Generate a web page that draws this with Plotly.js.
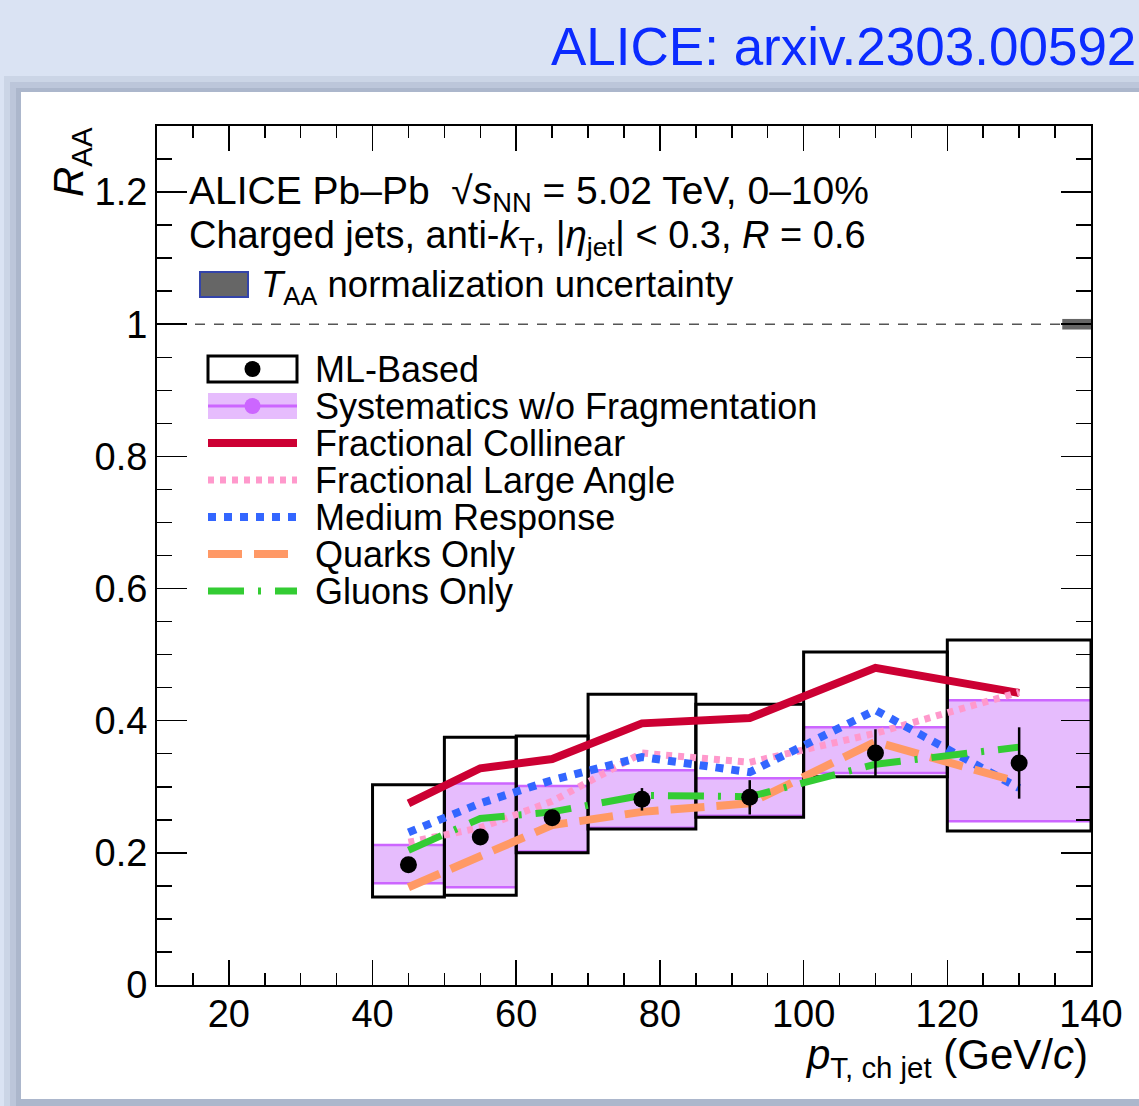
<!DOCTYPE html>
<html>
<head>
<meta charset="utf-8">
<script src="https://cdn.plot.ly/plotly-3.0.1.min.js"></script>
<style>
html,body{margin:0;padding:0;background:#dae3f3;}
#chart{width:1139px;height:1106px;}
</style>
</head>
<body>
<div id="chart"></div>
<script>
// ---------------- data ----------------
const binLo = [40, 50, 60, 70, 85, 100, 120];
const binHi = [50, 60, 70, 85, 100, 120, 140];
const ptCenter = [45, 55, 65, 77.5, 92.5, 110, 130];
const raaML = [0.182, 0.224, 0.253, 0.281, 0.284, 0.351, 0.336];
const statErr = [0.006, 0.008, 0.010, 0.017, 0.026, 0.036, 0.054];
const sysLow = [0.133, 0.136, 0.200, 0.236, 0.254, 0.315, 0.233];
const sysHigh = [0.303, 0.375, 0.377, 0.440, 0.425, 0.504, 0.522];
const sysNoFragLow = [0.154, 0.148, 0.202, 0.238, 0.256, 0.321, 0.248];
const sysNoFragHigh = [0.212, 0.305, 0.301, 0.325, 0.313, 0.390, 0.431];
const fracCollinear = [0.275, 0.328, 0.342, 0.396, 0.404, 0.480, 0.442];
const fracLargeAngle = [0.216, 0.238, 0.278, 0.351, 0.337, 0.381, 0.443];
const mediumResponse = [0.231, 0.275, 0.310, 0.345, 0.322, 0.416, 0.298];
const quarksOnly = [0.148, 0.194, 0.242, 0.262, 0.275, 0.368, 0.307];
const gluonsOnly = [0.204, 0.252, 0.262, 0.287, 0.285, 0.334, 0.360];
const taaCenter = 1.0;
const taaUnc = 0.008;
const taaXLo = 136, taaXHi = 140;
const unityLine = 1.0;
const xTickVals = [20, 40, 60, 80, 100, 120, 140];
const yTickVals = [0, 0.2, 0.4, 0.6, 0.8, 1.0, 1.2];
const yTickText = ['0', '0.2', '0.4', '0.6', '0.8', '1', '1.2'];

const legendNames = ['ML-Based', 'Systematics w/o Fragmentation', 'Fractional Collinear',
  'Fractional Large Angle', 'Medium Response', 'Quarks Only', 'Gluons Only'];

// ---------------- styles ----------------
const FONT = 'Liberation Sans, Arial, Helvetica, sans-serif';
const cRed = '#cc0033', cPink = '#ff99cc', cBlue = '#3366ff', cOrange = '#ff9966', cGreen = '#33cc33';
const cPurpleFill = '#e6bcfd', cPurpleLine = '#cc66ff';
const dashPink = '6px,6px', dashBlue = '8px,8px', dashOrange = '34px,12px', dashGreen = '36px,14px,3px,14px';

// pixel geometry of the plot frame
const L = 157, R = 1091, T = 126, B = 985;
const px = v => (v - L) / (R - L);
const py = v => (B - v) / (B - T);

// ---------------- traces ----------------
function curve(y, color, width, dash) {
  return {x: ptCenter, y: y, type: 'scatter', mode: 'lines', showlegend: false,
    line: {color: color, width: width, dash: dash}, hoverinfo: 'skip'};
}
const traces = [
  curve(fracCollinear, cRed, 8, 'solid'),
  curve(fracLargeAngle, cPink, 7, dashPink),
  curve(mediumResponse, cBlue, 8, dashBlue),
  curve(quarksOnly, cOrange, 8, dashOrange),
  curve(gluonsOnly, cGreen, 7, dashGreen),
  {x: ptCenter, y: raaML, type: 'scatter', mode: 'markers', showlegend: false,
    marker: {color: 'black', size: 17},
    error_y: {type: 'data', array: statErr, visible: true, color: 'black', thickness: 2.5, width: 0}}
];

// ---------------- shapes ----------------
const shapes = [];
// slide background shadow + white panel
shapes.push({type: 'rect', xref: 'paper', yref: 'paper', layer: 'below', x0: px(4), x1: px(1145), y0: py(76), y1: py(1110), fillcolor: 'rgba(150,162,185,0.22)', line: {width: 0}});
shapes.push({type: 'rect', xref: 'paper', yref: 'paper', layer: 'below', x0: px(10), x1: px(1145), y0: py(82), y1: py(1110), fillcolor: 'rgba(150,162,185,0.28)', line: {width: 0}});
shapes.push({type: 'rect', xref: 'paper', yref: 'paper', layer: 'below', x0: px(16), x1: px(1145), y0: py(88), y1: py(1110), fillcolor: 'rgba(140,152,175,0.32)', line: {width: 0}});
shapes.push({type: 'rect', xref: 'paper', yref: 'paper', layer: 'below', x0: px(21), x1: px(1145), y0: py(92), y1: py(1099), fillcolor: 'white', line: {width: 0}});

// unity dashed line
shapes.push({type: 'line', xref: 'x', yref: 'y', layer: 'below', x0: 10, x1: 140, y0: unityLine, y1: unityLine, line: {color: '#555', width: 1.5, dash: '10px,9px'}});
// TAA box
shapes.push({type: 'rect', xref: 'x', yref: 'y', layer: 'below', x0: taaXLo, x1: taaXHi, y0: taaCenter - taaUnc, y1: taaCenter + taaUnc, fillcolor: '#666666', line: {width: 0}});

// purple systematics w/o fragmentation
for (let i = 0; i < binLo.length; i++) {
  shapes.push({type: 'rect', xref: 'x', yref: 'y', layer: 'below', x0: binLo[i], x1: binHi[i], y0: sysNoFragLow[i], y1: sysNoFragHigh[i], fillcolor: cPurpleFill, line: {width: 0}});
  shapes.push({type: 'line', xref: 'x', yref: 'y', layer: 'below', x0: binLo[i], x1: binHi[i], y0: sysNoFragLow[i], y1: sysNoFragLow[i], line: {color: cPurpleLine, width: 2.5}});
  shapes.push({type: 'line', xref: 'x', yref: 'y', layer: 'below', x0: binLo[i], x1: binHi[i], y0: sysNoFragHigh[i], y1: sysNoFragHigh[i], line: {color: cPurpleLine, width: 2.5}});
}
// ML-based systematic boxes
for (let i = 0; i < binLo.length; i++) {
  shapes.push({type: 'rect', xref: 'x', yref: 'y', layer: 'below', x0: binLo[i], x1: binHi[i], y0: sysLow[i], y1: sysHigh[i], fillcolor: 'rgba(0,0,0,0)', line: {color: 'black', width: 3}});
}

// legend symbols (layout positions in pixels)
const legX0 = 208, legX1 = 297, legTextX = 316;
const legY = [369, 406, 443, 480, 517, 554, 591];
const legMid = (legX0 + legX1) / 2;
// ML-Based box + dot
shapes.push({type: 'rect', xref: 'paper', yref: 'paper', x0: px(legX0), x1: px(legX1), y0: py(legY[0] + 13), y1: py(legY[0] - 13), line: {color: 'black', width: 3}, fillcolor: 'white'});
shapes.push({type: 'circle', xref: 'paper', yref: 'paper', x0: px(legMid - 8), x1: px(legMid + 8), y0: py(legY[0] + 8), y1: py(legY[0] - 8), line: {width: 0}, fillcolor: 'black'});
// Systematics box + line + dot
shapes.push({type: 'rect', xref: 'paper', yref: 'paper', x0: px(legX0), x1: px(legX1), y0: py(legY[1] + 13), y1: py(legY[1] - 13), line: {width: 0}, fillcolor: cPurpleFill});
shapes.push({type: 'line', xref: 'paper', yref: 'paper', x0: px(legX0), x1: px(legX1), y0: py(legY[1]), y1: py(legY[1]), line: {color: cPurpleLine, width: 3}});
shapes.push({type: 'circle', xref: 'paper', yref: 'paper', x0: px(legMid - 8), x1: px(legMid + 8), y0: py(legY[1] + 8), y1: py(legY[1] - 8), line: {width: 0}, fillcolor: cPurpleLine});
// line entries
const legLines = [[cRed, 8, 'solid'], [cPink, 7, dashPink], [cBlue, 8, dashBlue], [cOrange, 8, dashOrange], [cGreen, 7, dashGreen]];
legLines.forEach((s, k) => {
  const yy = legY[k + 2];
  shapes.push({type: 'line', xref: 'paper', yref: 'paper', x0: px(legX0), x1: px(legX1), y0: py(yy), y1: py(yy), line: {color: s[0], width: s[1], dash: s[2]}});
});
// TAA legend box
shapes.push({type: 'rect', xref: 'paper', yref: 'paper', x0: px(200), x1: px(248), y0: py(297), y1: py(272), fillcolor: '#666666', line: {color: '#3344aa', width: 2}});

// ---------------- annotations ----------------
function ann(text, xpix, ypix, size, extra) {
  return Object.assign({xref: 'paper', yref: 'paper', x: px(xpix), y: py(ypix), text: text, showarrow: false,
    xanchor: 'left', yanchor: 'middle', font: {family: FONT, size: size, color: 'black'}}, extra || {});
}
const annotations = [];
annotations.push(ann('ALICE: arxiv.2303.00592', 1138, 47, 53, {xanchor: 'right', font: {family: FONT, size: 53, color: '#0b2bff'}}));
annotations.push(ann('ALICE Pb\u2013Pb  \u221A<i>s</i><sub>NN</sub> = 5.02 TeV, 0\u201310%', 187, 193, 39));
annotations.push(ann('Charged jets, anti-<i>k</i><sub>T</sub>, |<i>\u03B7</i><sub>jet</sub>| &lt; 0.3, <i>R</i> = 0.6', 187, 238, 38));
annotations.push(ann('<i>T</i><sub>AA</sub> normalization uncertainty', 259, 287, 36.5));
legendNames.forEach((n, k) => annotations.push(ann(n, legTextX - 3, legY[k], 36)));
annotations.push(ann('<i>R</i><sub>AA</sub>', 71, 125, 42, {xanchor: 'center', yanchor: 'top', textangle: -90}));
annotations.push(ann('<i>p</i><sub>T, ch jet</sub> (GeV/<i>c</i>)', 1090, 1057, 42, {xanchor: 'right'}));

// ---------------- layout ----------------
const axisCommon = {showline: true, linewidth: 2, linecolor: 'black', mirror: 'allticks', ticks: 'inside',
  tickcolor: 'black', tickwidth: 1.5, showgrid: false, zeroline: false,
  tickfont: {family: FONT, size: 38, color: 'black'}};
const layout = {
  width: 1139, height: 1106,
  margin: {l: L, r: 1139 - R, t: T, b: 1106 - B, pad: 0},
  paper_bgcolor: '#dae3f3', plot_bgcolor: 'white',
  showlegend: false,
  xaxis: Object.assign({}, axisCommon, {range: [10, 140], tickmode: 'array', tickvals: xTickVals, ticklen: 25,
    ticklabelstandoff: -6,
    minor: {dtick: 5, tick0: 0, ticklen: 12, ticks: 'inside', tickcolor: 'black', tickwidth: 1.5, showgrid: false}}),
  yaxis: Object.assign({}, axisCommon, {range: [0, 1.3], tickmode: 'array', tickvals: yTickVals, ticktext: yTickText, ticklen: 30,
    minor: {dtick: 0.05, tick0: 0, ticklen: 15, ticks: 'inside', tickcolor: 'black', tickwidth: 1.5, showgrid: false}}),
  shapes: shapes,
  annotations: annotations
};
Plotly.newPlot('chart', traces, layout, {displayModeBar: false, staticPlot: true});
</script>
</body>
</html>
